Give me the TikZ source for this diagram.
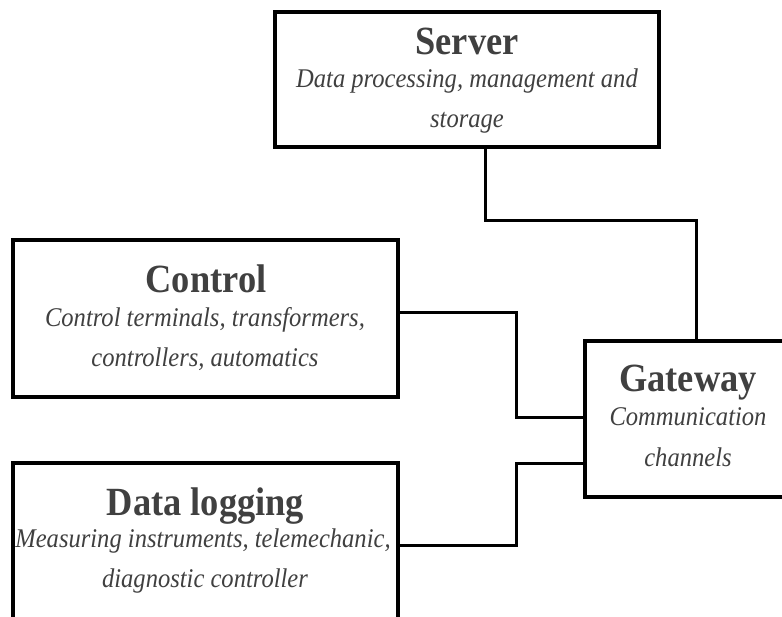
\documentclass[tikz,border=0pt]{standalone}
\usepackage{fontspec}
\setmainfont{Liberation Serif}
\newfontfamily\diafont[FakeStretch=0.91]{Liberation Serif}
\definecolor{txtgray}{HTML}{404040}
\begin{document}
\begin{tikzpicture}[x=1pt,y=-1pt,
  box/.style={draw=black,line width=4pt,rectangle,inner sep=0pt,outer sep=0pt,fill=white},
  conn/.style={draw=black,line width=3pt,line join=miter},
  ttl/.style={anchor=base,inner sep=0pt,text=txtgray,font=\diafont\bfseries\fontsize{40}{40}\selectfont},
  sub/.style={anchor=base,inner sep=0pt,text=txtgray,font=\diafont\itshape\fontsize{27}{27}\selectfont}]
\useasboundingbox (0,0) rectangle (782,617);
\clip (0,0) rectangle (782,617);
\fill[white] (0,0) rectangle (782,617);
% boxes
\node[box,minimum width=384pt,minimum height=135pt] (server) at (467,79.5) {};
\node[box,minimum width=385pt,minimum height=157pt] (control) at (205.5,318.5) {};
\node[box,minimum width=385pt,minimum height=217pt] (datalog) at (205.5,571.5) {};
\node[box,minimum width=206pt,minimum height=156pt] (gateway) at (688,419) {};
% texts
\node[ttl] (serverT) at (467,55) {Server};
\node[sub] (serverS1) at (467,88) {Data processing, management and};
\node[sub] (serverS2) at (467,128) {storage};
\node[ttl] (controlT) at (206,293) {Control};
\node[sub] (controlS1) at (205,327) {Control terminals, transformers,};
\node[sub] (controlS2) at (205,367) {controllers, automatics};
\node[ttl] (datalogT) at (205.5,515) {Data logging};
\node[sub] (datalogS1) at (203,547) {Measuring instruments, telemechanic,};
\node[sub] (datalogS2) at (205,587) {diagnostic controller};
\node[ttl] (gatewayT) at (688,392) {Gateway};
\node[sub] (gatewayS1) at (688,426) {Communication};
\node[sub] (gatewayS2) at (688,467) {channels};
% connectors
\coordinate (s1) at (485,221);
\coordinate (s2) at (696,221);
\draw[conn] (server.south -| s1) -- (s1) -- (s2) -- (gateway.north -| s2);
\coordinate (c1) at (516,313);
\coordinate (c2) at (516,418);
\draw[conn] (control.east |- c1) -- (c1) -- (c2) -- (gateway.west |- c2);
\coordinate (d1) at (516,545);
\coordinate (d2) at (516,463);
\draw[conn] (datalog.east |- d1) -- (d1) -- (d2) -- (gateway.west |- d2);
\end{tikzpicture}
\end{document}
